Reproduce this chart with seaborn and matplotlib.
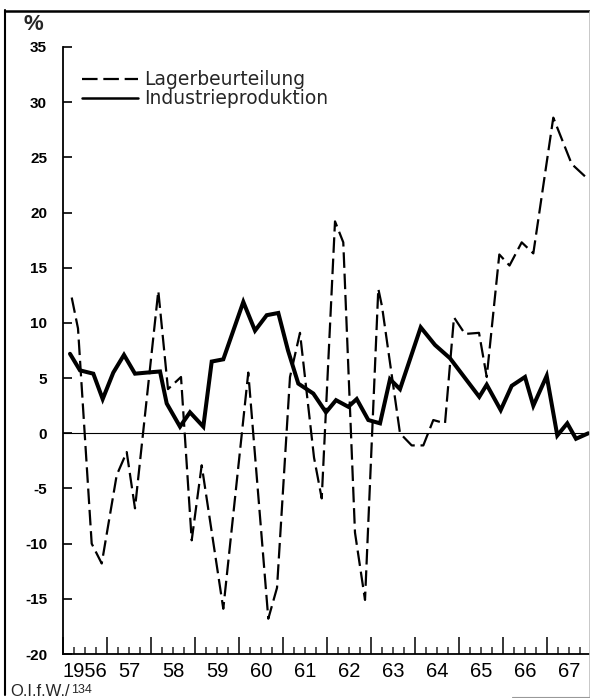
import numpy as np
import pandas as pd
import matplotlib
matplotlib.use("Agg")
import matplotlib.pyplot as plt
from matplotlib.lines import Line2D
from matplotlib.ticker import FixedLocator, MultipleLocator, NullFormatter
import seaborn as sns

# ---------------- data ----------------
prod_years = [1956.159, 1956.386, 1956.689, 1956.902, 1957.143, 1957.386, 1957.636, 1957.909,
              1958.205, 1958.357, 1958.659, 1958.886, 1959.189, 1959.380, 1959.643, 1960.098,
              1960.364, 1960.630, 1960.893, 1961.114, 1961.348, 1961.689, 1961.977, 1962.205,
              1962.484, 1962.675, 1962.939, 1963.205, 1963.432, 1963.659, 1964.130, 1964.455,
              1964.795, 1965.461, 1965.630, 1965.948, 1966.198, 1966.500, 1966.689, 1966.993,
              1967.234, 1967.461, 1967.659, 1967.939]
prod_values = [7.2, 5.7, 5.4, 3.1, 5.5, 7.1, 5.4, 5.5,
               5.6, 2.7, 0.6, 1.9, 0.6, 6.5, 6.7, 11.9,
               9.3, 10.7, 10.9, 7.5, 4.5, 3.6, 1.9, 3.0,
               2.4, 3.1, 1.2, 0.9, 4.9, 4.0, 9.6, 8.0,
               6.8, 3.3, 4.4, 2.1, 4.3, 5.1, 2.5, 5.2,
               -0.2, 0.9, -0.5, 0.0]

lager_years = [1956.198, 1956.341, 1956.652, 1956.880, 1957.220, 1957.448, 1957.636, 1958.166,
               1958.386, 1958.682, 1958.925, 1959.152, 1959.643, 1960.211, 1960.666, 1960.864,
               1961.159, 1961.386, 1961.705, 1961.880, 1962.182, 1962.370, 1962.636, 1962.864,
               1963.166, 1963.250, 1963.659, 1963.925, 1964.189, 1964.416, 1964.682, 1964.886,
               1965.136, 1965.455, 1965.630, 1965.916, 1966.148, 1966.425, 1966.689, 1967.143,
               1967.561, 1967.939]
lager_values = [12.3, 9.5, -10.0, -11.8, -3.8, -1.7, -6.8, 12.9,
                4.0, 5.1, -9.7, -2.9, -15.9, 5.5, -16.8, -14.0,
                5.1, 9.1, -2.2, -5.9, 19.2, 17.3, -9.0, -15.1,
                13.1, 11.5, 0.0, -1.1, -1.1, 1.2, 0.9, 10.5,
                9.0, 9.1, 5.1, 16.2, 15.2, 17.3, 16.3, 28.6,
                24.4, 23.0]

series_names = ["Lagerbeurteilung", "Industrieproduktion"]
year_ticks = list(range(1956, 1968))
year_labels = ["1956", "57", "58", "59", "60", "61", "62", "63", "64", "65", "66", "67"]
y_ticks = [-20, -15, -10, -5, 0, 5, 10, 15, 20, 25, 30, 35]
y_unit = "%"
source_text = "O.I.f.W./"
source_number = "134"

# ---------------- style ----------------
sns.set_theme(style="white")
plt.rcParams["font.family"] = ["Liberation Sans", "DejaVu Sans"]
plt.rcParams["axes.unicode_minus"] = False
plt.rcParams["axes.edgecolor"] = "black"

W, H = 590, 698
fig = plt.figure(figsize=(W / 100, H / 100), dpi=100)
fig.patch.set_facecolor("white")
ax = fig.add_axes([63 / W, 1 - 654 / H, (W - 63) / W, 607 / H])
ax.set_facecolor("white")

lager_df = pd.DataFrame({"Jahr": lager_years, "Wert": lager_values})
prod_df = pd.DataFrame({"Jahr": prod_years, "Wert": prod_values})

sns.lineplot(data=lager_df, x="Jahr", y="Wert", ax=ax, color="black", linewidth=1.6,
             estimator=None, sort=False, label=series_names[0])
sns.lineplot(data=prod_df, x="Jahr", y="Wert", ax=ax, color="black", linewidth=2.9,
             estimator=None, sort=False, label=series_names[1])
ax.lines[0].set_dashes((7, 2.6))
ax.lines[1].set_solid_joinstyle("miter")

ax.axhline(0, color="black", linewidth=0.8, zorder=1)

ax.set_xlim(1956, 1956 + (W - 63) / 44)
ax.set_ylim(-20, 35)
ax.set_xlabel("")
ax.set_ylabel("")

for s in ["top", "right"]:
    ax.spines[s].set_visible(False)
for s in ["left", "bottom"]:
    ax.spines[s].set_linewidth(1.3)
    ax.spines[s].set_color("black")

# y axis
ax.yaxis.set_major_locator(FixedLocator(y_ticks))
ax.set_yticklabels([str(v) for v in y_ticks])
ax.tick_params(axis="y", direction="in", length=6.5, width=1.2, pad=11.5,
               labelsize=11, colors="black", left=True)
for lab in ax.get_yticklabels():
    lab.set_fontweight("bold")

# x axis: year ticks + quarter ticks, labels centred in each year
ax.xaxis.set_major_locator(FixedLocator(year_ticks))
ax.xaxis.set_major_formatter(NullFormatter())
ax.xaxis.set_minor_locator(MultipleLocator(0.25))
ax.tick_params(axis="x", which="major", direction="in", length=12, width=1.3, bottom=True)
ax.tick_params(axis="x", which="minor", direction="in", length=5, width=1.1, bottom=True)

sec = ax.secondary_xaxis("bottom")
sec.set_xticks([y + 0.5 for y in year_ticks], labels=year_labels)
sec.tick_params(length=0, pad=5.5, labelsize=14.5, colors="black")
sec.spines["bottom"].set_visible(False)
for lab in sec.get_xticklabels():
    lab.set_family(["Liberation Sans Narrow", "Liberation Sans", "DejaVu Sans"])

# legend
leg = ax.legend(loc="upper left", bbox_to_anchor=(0.036, 0.962), frameon=False,
                prop={"family": ["DejaVu Sans"], "size": 13.5},
                handlelength=3.0, handletextpad=0.3, labelspacing=0.02,
                borderpad=0, borderaxespad=0)
leg.get_lines()[1].set_linewidth(1.8)
leg.get_lines()[0].set_linewidth(1.6)

# unit label
fig.text(24 / W, 1 - 24 / H, y_unit, fontsize=16, fontweight="bold", ha="left", va="center")

# source note
t1 = fig.text(10 / W, 1 - 696 / H, source_text, fontsize=12, ha="left", va="baseline")
ax.annotate(source_number, xy=(1, 0), xycoords=t1, xytext=(1, 2), textcoords="offset points",
            fontsize=9, ha="left", va="bottom", annotation_clip=False)

# outer frame of the scanned sheet
fig.add_artist(Line2D([5 / W, 5 / W], [1 - 695 / H, 1 - 10 / H], color="black", lw=1.5,
                      transform=fig.transFigure))
fig.add_artist(Line2D([5 / W, 1.0], [1 - 10.5 / H, 1 - 10.5 / H], color="black", lw=1.8,
                      transform=fig.transFigure))
fig.add_artist(Line2D([588.5 / W, 588.5 / W], [1 - 697 / H, 1 - 11 / H], color="0.75", lw=0.6,
                      transform=fig.transFigure))
fig.add_artist(Line2D([512 / W, 1.0], [1 - 697 / H, 1 - 697 / H], color="0.6", lw=0.8,
                      transform=fig.transFigure))

fig.savefig("out.png", dpi=100, facecolor="white")
